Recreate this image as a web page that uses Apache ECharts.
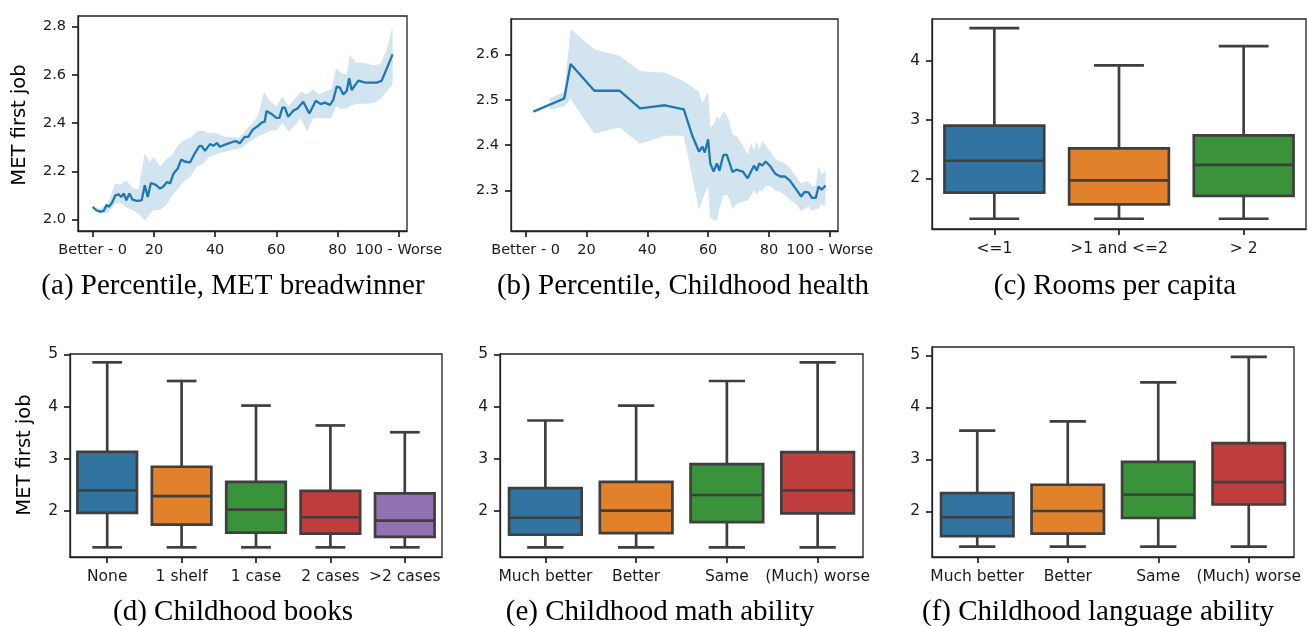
<!DOCTYPE html>
<html><head><meta charset="utf-8">
<script src="https://cdn.jsdelivr.net/npm/echarts@6/dist/echarts.min.js"></script>
<style>html,body{margin:0;padding:0;background:#fff}#c{width:1308px;height:626px}</style>
</head><body><div id="c"></div><script>
// ---------- data ----------
const lineXTicks = [0, 20, 40, 60, 80, 100];
const lineXTickLabels = ['Better - 0', '20', '40', '60', '80', '100 - Worse'];
const aYTicks = [2.0, 2.2, 2.4, 2.6, 2.8];
const bYTicks = [2.3, 2.4, 2.5, 2.6];
const cYTicks = [2, 3, 4];
const defYTicks = [2, 3, 4, 5];

// (a) Percentile, MET breadwinner
const aX = [0,1.2,2.5,3.6,4.5,5.3,6.4,7.4,8.5,9.3,10.2,11,12,13,14.4,16,17,18,19,20.5,22,23,24.3,25.3,26.4,27.8,28.9,30.2,31.8,33.2,34.8,35.6,36.7,38.3,39.4,40.6,41.5,43.7,45.9,47,48,49.7,50.8,52.4,54,55.2,56.2,56.8,58.4,60,61,62,62.8,63.9,65.5,66.9,68.8,70.8,72.9,74.5,75.9,77.5,78.6,79.7,80.8,81.9,83,83.8,84.6,86.8,89,92.8,94.4,98];
const aY = [2.053,2.039,2.033,2.036,2.061,2.053,2.072,2.101,2.105,2.094,2.108,2.080,2.108,2.083,2.078,2.080,2.143,2.094,2.152,2.145,2.129,2.136,2.156,2.150,2.191,2.212,2.249,2.240,2.237,2.271,2.305,2.306,2.285,2.313,2.306,2.318,2.302,2.313,2.323,2.325,2.316,2.343,2.343,2.374,2.388,2.402,2.406,2.450,2.438,2.422,2.422,2.464,2.464,2.426,2.451,2.461,2.489,2.440,2.493,2.479,2.485,2.475,2.496,2.551,2.547,2.519,2.533,2.586,2.537,2.576,2.568,2.568,2.575,2.685];
const aBandX = [1.2,2.5,5,7.4,9,11,13,15,17,18.5,20,22,24,26,28,30,32,34,36,38,40,43,46,48,50,52,54,56,58,60,62,64,66,68,70,72,74,76,78,79.5,81,83,84,86,88,90,92,94,96,98];
const aUpper = [2.05,2.045,2.07,2.15,2.145,2.163,2.13,2.125,2.275,2.24,2.26,2.22,2.25,2.27,2.31,2.33,2.34,2.364,2.37,2.357,2.36,2.345,2.34,2.34,2.37,2.40,2.43,2.53,2.49,2.47,2.51,2.47,2.50,2.53,2.52,2.54,2.52,2.53,2.54,2.627,2.61,2.60,2.683,2.65,2.65,2.645,2.64,2.645,2.70,2.80];
const aLower = [2.03,2.025,2.03,2.066,2.07,2.05,2.04,2.025,1.997,2.02,2.04,2.04,2.06,2.10,2.13,2.16,2.18,2.219,2.23,2.26,2.27,2.28,2.29,2.295,2.31,2.33,2.345,2.355,2.37,2.37,2.40,2.364,2.39,2.42,2.364,2.42,2.42,2.42,2.42,2.47,2.46,2.46,2.47,2.48,2.48,2.48,2.485,2.50,2.53,2.558];

// (b) Percentile, Childhood health
const bX = [2.56,12.7,14.8,22.6,30.9,37.6,45.8,52,54.9,57,58.1,58.9,60,60.7,61.8,62.9,63.7,65,66.1,67.1,68,69.3,71.4,73,74.1,75.1,76,76.8,77.8,78.9,80.5,82.1,83.7,85.3,86.9,89,90.6,91.7,93,94.1,95.4,96.3,97.3,98.6];
const bY = [2.474,2.503,2.579,2.520,2.520,2.481,2.488,2.479,2.419,2.386,2.397,2.384,2.413,2.360,2.342,2.360,2.344,2.378,2.379,2.360,2.341,2.346,2.342,2.327,2.342,2.355,2.344,2.360,2.355,2.364,2.353,2.337,2.331,2.331,2.322,2.302,2.287,2.297,2.296,2.284,2.284,2.309,2.302,2.311];
const bBandX = [7.9,12.7,14.8,22.6,30.9,37.6,45.8,52,57,58.1,60,60.7,61.8,62.9,63.7,65,66.1,67.1,68,69.3,71.4,73,74.1,75.1,76,76.8,77.8,78.9,80.5,82.1,83.7,85.3,86.9,89,90.6,91.7,93,94.1,95.4,96.3,97.3,98.6];
const bUpper = [2.503,2.518,2.656,2.611,2.597,2.563,2.560,2.541,2.518,2.492,2.518,2.44,2.445,2.463,2.456,2.474,2.467,2.45,2.423,2.42,2.40,2.379,2.404,2.39,2.408,2.39,2.410,2.40,2.385,2.37,2.364,2.36,2.35,2.33,2.315,2.32,2.32,2.31,2.31,2.353,2.335,2.346];
const bLower = [2.478,2.486,2.501,2.425,2.439,2.403,2.421,2.421,2.258,2.28,2.309,2.240,2.235,2.234,2.26,2.29,2.291,2.28,2.259,2.27,2.276,2.278,2.29,2.30,2.29,2.30,2.30,2.31,2.31,2.30,2.297,2.29,2.28,2.27,2.255,2.26,2.265,2.255,2.26,2.26,2.27,2.267];

// boxes: [min, Q1, median, Q3, max]
const cCats = ['<=1', '>1 and <=2', '> 2'];
const cBoxes = [[1.31,1.756,2.30,2.90,4.564],[1.31,1.556,1.966,2.51,3.93],[1.31,1.70,2.228,2.735,4.256]];
const dCats = ['None', '1 shelf', '1 case', '2 cases', '>2 cases'];
const dBoxes = [[1.31,1.967,2.40,3.134,4.847],[1.31,1.745,2.29,2.85,4.49],[1.31,1.59,2.03,2.56,4.02],[1.31,1.57,1.885,2.39,3.64],[1.31,1.51,1.82,2.34,3.51]];
const eCats = ['Much better', 'Better', 'Same', '(Much) worse'];
const eBoxes = [[1.31,1.55,1.875,2.44,3.735],[1.31,1.58,2.01,2.56,4.02],[1.31,1.79,2.31,2.90,4.49],[1.31,1.96,2.40,3.13,4.847]];
const fCats = ['Much better', 'Better', 'Same', '(Much) worse'];
const fBoxes = [[1.32,1.52,1.885,2.35,3.55],[1.32,1.57,2.005,2.51,3.73],[1.32,1.87,2.32,2.95,4.48],[1.32,2.13,2.56,3.31,4.97]];

const captions = ['(a) Percentile, MET breadwinner', '(b) Percentile, Childhood health', '(c) Rooms per capita',
                  '(d) Childhood books', '(e) Childhood math ability', '(f) Childhood language ability'];
const yLabel = 'MET first job';

// ---------- styling ----------
const palette = ['#3274a1', '#e1812c', '#3a923a', '#c03d3e', '#9372b2'];
const lineColor = '#1f77b4';
const bandColor = 'rgba(31,119,180,0.2)';
const ink = '#1a1a1a';
const frame = '#222';
const lineTickFont = {fontFamily: 'DejaVu Sans', fontSize: 14.5, color: ink};
const boxTickFont = {fontFamily: 'DejaVu Sans', fontSize: 15.5, color: ink};

const grids = [
  {left: 78, top: 16, width: 329, height: 215},
  {left: 511, top: 19, width: 327, height: 212},
  {left: 932, top: 19, width: 374, height: 210},
  {left: 70, top: 354, width: 372, height: 203},
  {left: 500, top: 354, width: 363, height: 203},
  {left: 932, top: 347, width: 362, height: 210}
].map(g => Object.assign({show: true, borderColor: frame, borderWidth: 1.3, backgroundColor: 'transparent', containLabel: false}, g));

const tickStyle = {show: true, inside: false, length: 6, lineStyle: {color: frame, width: 1.7}};
const axisLineStyle = {show: true, onZero: false, lineStyle: {color: frame, width: 1.3}};

function valueXAxis(gi) {
  return {
    type: 'value', gridIndex: gi, min: -4.8, max: 102.7, position: 'bottom',
    axisLine: axisLineStyle, splitLine: {show: false},
    axisTick: Object.assign({customValues: lineXTicks}, tickStyle),
    axisLabel: Object.assign({customValues: lineXTicks, margin: 12,
      formatter: v => { const k = lineXTicks.findIndex(t => Math.abs(t - v) < 1e-6); return k >= 0 ? lineXTickLabels[k] : ''; }}, lineTickFont)
  };
}
function valueYAxis(gi, min, max, ticks, dec, font) {
  return {
    type: 'value', gridIndex: gi, min: min, max: max, position: 'left',
    axisLine: axisLineStyle, splitLine: {show: false},
    axisTick: Object.assign({customValues: ticks}, tickStyle),
    axisLabel: Object.assign({customValues: ticks, margin: 12, formatter: v => v.toFixed(dec)}, font)
  };
}
function catXAxis(gi, cats) {
  return {
    type: 'category', gridIndex: gi, data: cats, boundaryGap: true, position: 'bottom',
    axisLine: axisLineStyle, splitLine: {show: false},
    axisTick: Object.assign({alignWithLabel: true, interval: 0}, tickStyle),
    axisLabel: Object.assign({margin: 12, interval: 0}, boxTickFont)
  };
}

function boxRender(params, api) {
  const i = api.value(0);
  const cMed = api.coord([i, api.value(3)]);
  const x = cMed[0];
  const band = api.size([1, 0])[0];
  const bw = band * 0.8, cw = bw * 0.5;
  const yLo = api.coord([i, api.value(1)])[1];
  const yQ1 = api.coord([i, api.value(2)])[1];
  const yMed = cMed[1];
  const yQ3 = api.coord([i, api.value(4)])[1];
  const yHi = api.coord([i, api.value(5)])[1];
  const st = {stroke: '#3f3f3f', lineWidth: 2.7};
  return {type: 'group', children: [
    {type: 'line', shape: {x1: x, y1: yQ3, x2: x, y2: yHi}, style: st},
    {type: 'line', shape: {x1: x, y1: yQ1, x2: x, y2: yLo}, style: st},
    {type: 'line', shape: {x1: x - cw / 2, y1: yHi, x2: x + cw / 2, y2: yHi}, style: st},
    {type: 'line', shape: {x1: x - cw / 2, y1: yLo, x2: x + cw / 2, y2: yLo}, style: st},
    {type: 'rect', shape: {x: x - bw / 2, y: yQ3, width: bw, height: yQ1 - yQ3}, style: {fill: palette[i], stroke: '#3f3f3f', lineWidth: 2.7}},
    {type: 'line', shape: {x1: x - bw / 2, y1: yMed, x2: x + bw / 2, y2: yMed}, style: st}
  ]};
}

function boxSeries(gi, boxes) {
  return {type: 'custom', xAxisIndex: gi, yAxisIndex: gi, renderItem: boxRender,
    encode: {x: 0, y: [1, 2, 3, 4, 5]},
    data: boxes.map((b, i) => [i].concat(b)), z: 3};
}
// confidence band: one polygon built through the axis scales
function bandSeries(gi, xs, lo, hi) {
  return {type: 'custom', xAxisIndex: gi, yAxisIndex: gi, z: 1, silent: true,
    encode: {x: 0, y: [1, 2]},
    data: xs.map((x, i) => [x, lo[i], hi[i]]),
    renderItem: function (params, api) {
      if (params.dataIndex !== 0) return null;
      const pts = [];
      for (let i = 0; i < xs.length; i++) pts.push(api.coord([xs[i], hi[i]]));
      for (let i = xs.length - 1; i >= 0; i--) pts.push(api.coord([xs[i], lo[i]]));
      return {type: 'polygon', shape: {points: pts}, style: {fill: bandColor}};
    }};
}
function lineSeries(gi, xs, ys) {
  return {type: 'line', xAxisIndex: gi, yAxisIndex: gi, symbol: 'none',
    lineStyle: {color: lineColor, width: 2.3}, data: xs.map((x, i) => [x, ys[i]]), z: 4};
}

const capFont = '29px "Liberation Serif", serif';
const capPos = [[233, 286], [683, 286], [1115, 286], [233, 612], [660, 612], [1098, 612]];
const graphics = captions.map((t, i) => ({
  type: 'text', x: capPos[i][0], y: capPos[i][1],
  style: {text: t, font: capFont, fill: '#000', textAlign: 'center', textVerticalAlign: 'middle'}
}));
[[20, 125], [25, 455]].forEach(p => graphics.push({
  type: 'text', x: p[0], y: p[1], rotation: Math.PI / 2,
  style: {text: yLabel, font: '19.5px "DejaVu Sans"', fill: '#000', textAlign: 'center', textVerticalAlign: 'middle'}
}));

const option = {
  animation: false,
  backgroundColor: '#fff',
  grid: grids,
  xAxis: [valueXAxis(0), valueXAxis(1), catXAxis(2, cCats), catXAxis(3, dCats), catXAxis(4, eCats), catXAxis(5, fCats)],
  yAxis: [
    valueYAxis(0, 1.953, 2.844, aYTicks, 1, lineTickFont),
    valueYAxis(1, 2.211, 2.678, bYTicks, 1, lineTickFont),
    valueYAxis(2, 1.135, 4.72, cYTicks, 0, boxTickFont),
    valueYAxis(3, 1.125, 5.006, defYTicks, 0, boxTickFont),
    valueYAxis(4, 1.125, 5.006, defYTicks, 0, boxTickFont),
    valueYAxis(5, 1.12, 5.16, defYTicks, 0, boxTickFont)
  ],
  series: [
    bandSeries(0, aBandX, aLower, aUpper),
    lineSeries(0, aX, aY),
    bandSeries(1, bBandX, bLower, bUpper),
    lineSeries(1, bX, bY),
    boxSeries(2, cBoxes), boxSeries(3, dBoxes), boxSeries(4, eBoxes), boxSeries(5, fBoxes)
  ],
  graphic: graphics
};
const chart = echarts.init(document.getElementById('c'));
chart.setOption(option);
</script></body></html>
